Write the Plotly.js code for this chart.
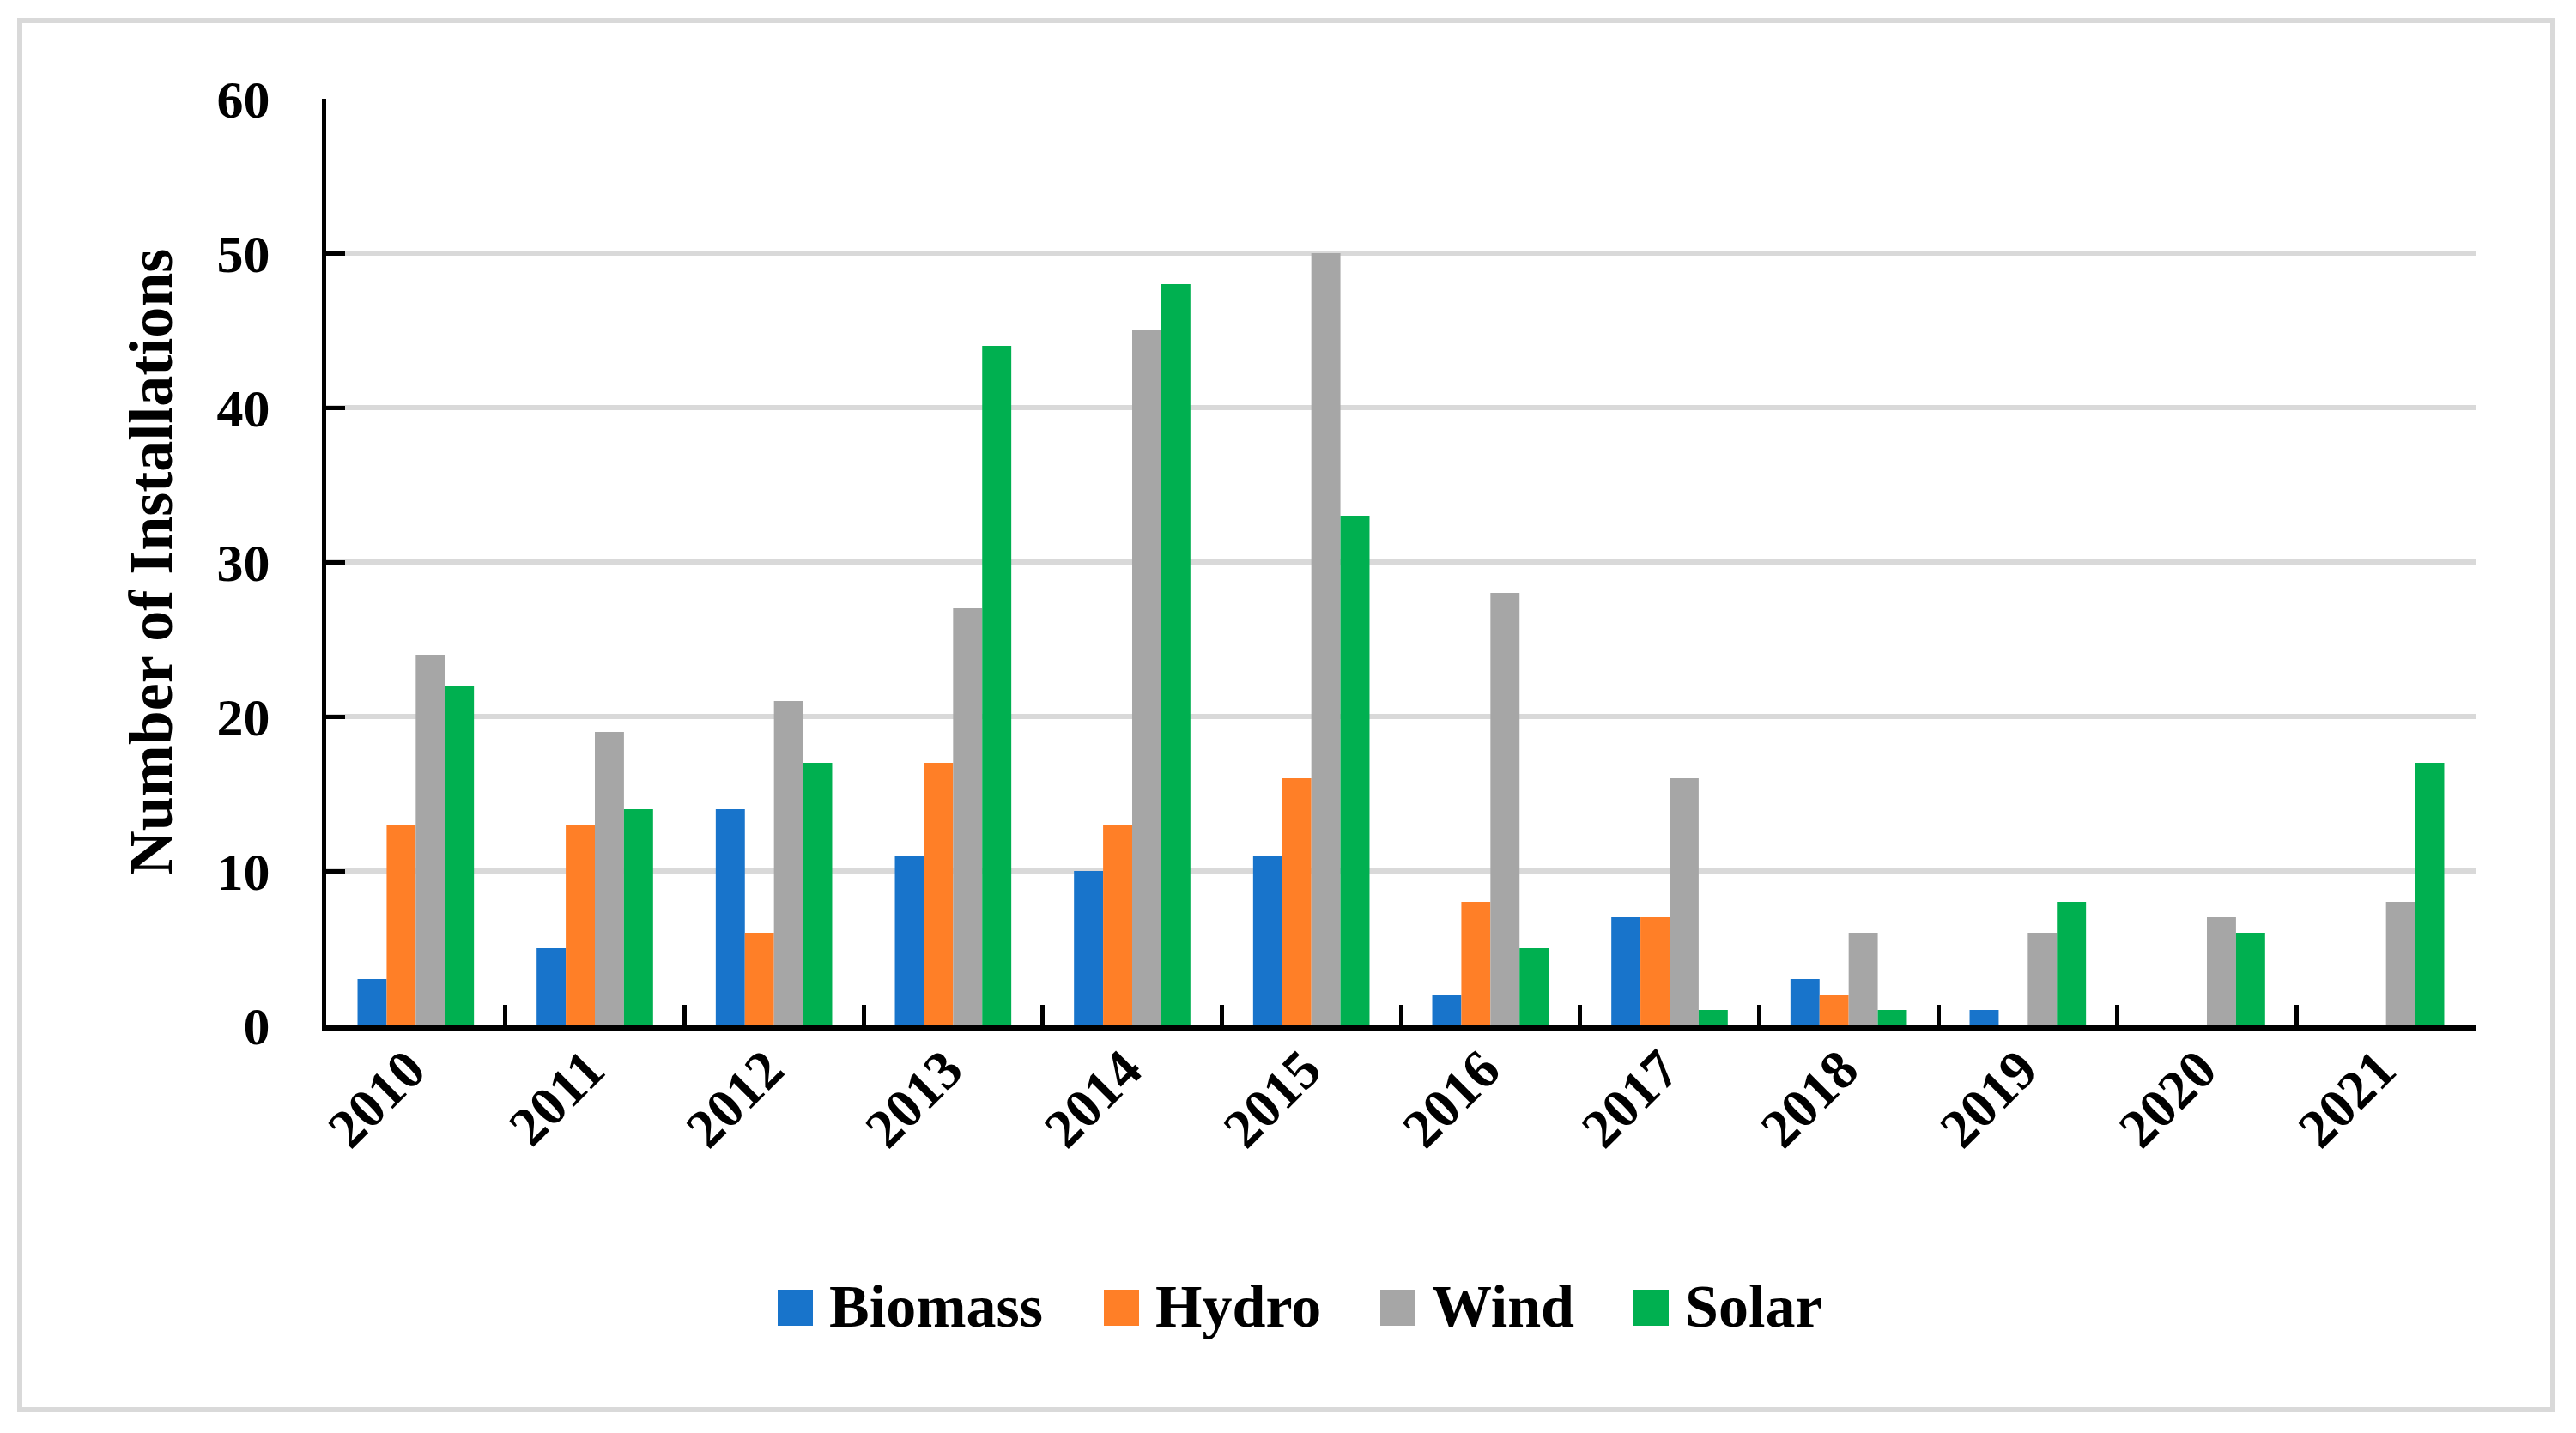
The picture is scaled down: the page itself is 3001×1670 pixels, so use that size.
<!DOCTYPE html>
<html><head><meta charset="utf-8">
<script src="https://cdn.plot.ly/plotly-3.0.1.min.js"></script>
<style>html,body{margin:0;padding:0;background:#fff}#chart{width:3001px;height:1670px}</style>
</head><body><div id="chart"></div>
<script>
// ---- data ----
const years = ['2010','2011','2012','2013','2014','2015','2016','2017','2018','2019','2020','2021'];
const biomass = [3, 5, 14, 11, 10, 11, 2, 7, 3, 1, 0, 0];
const hydro   = [13, 13, 6, 17, 13, 16, 8, 7, 2, 0, 0, 0];
const wind    = [24, 19, 21, 27, 45, 50, 28, 16, 6, 6, 7, 8];
const solar   = [22, 14, 17, 44, 48, 33, 5, 1, 1, 8, 6, 17];
const seriesNames = ['Biomass', 'Hydro', 'Wind', 'Solar'];
const yTickVals = [0, 10, 20, 30, 40, 50, 60];
const yTitle = 'Number of Installations';

// ---- styling ----
const seriesColors = ['#1874CB', '#FF7F27', '#A6A6A6', '#00B050'];
const FONT = 'Palatino Linotype, Book Antiqua, Palatino, Liberation Serif, serif';
const W = 3001, H = 1670;
const M = {l: 380, r: 117, t: 115, b: 475};
const pw = W - M.l - M.r, ph = H - M.t - M.b;
const px = x => (x - M.l) / pw;
const py = y => 1 - (y - M.t) / ph;

const values = [biomass, hydro, wind, solar];
const traces = values.map((v, i) => ({
  type: 'bar', x: years, y: v, name: seriesNames[i],
  marker: {color: seriesColors[i]}, showlegend: false, hoverinfo: 'x+y+name'
}));

// custom legend (large square swatches like the reference)
const legSwatchX = [906, 1286, 1608, 1903];
const shapes = [{
  type: 'rect', xref: 'paper', yref: 'paper',
  x0: px(23), x1: px(2974), y0: py(24), y1: py(1643),
  line: {color: '#d9d9d9', width: 6}, fillcolor: 'rgba(0,0,0,0)', layer: 'below'
}];
const annotations = [];
seriesNames.forEach((n, i) => {
  const x0 = legSwatchX[i];
  shapes.push({type: 'rect', xref: 'paper', yref: 'paper',
    x0: px(x0), x1: px(x0 + 41), y0: py(1545), y1: py(1503),
    line: {width: 0}, fillcolor: seriesColors[i]});
  annotations.push({xref: 'paper', yref: 'paper', x: px(x0 + 58), y: py(1522),
    xanchor: 'left', yanchor: 'middle', showarrow: false, text: n,
    font: {family: FONT, size: 70, color: '#000', weight: 'bold'}});
});

const layout = {
  width: W, height: H,
  margin: M,
  paper_bgcolor: '#fff', plot_bgcolor: '#fff',
  bargap: 0.35, bargroupgap: 0, barmode: 'group',
  showlegend: false,
  font: {family: FONT, color: '#000'},
  xaxis: {
    type: 'category', tickson: 'boundaries', ticks: 'inside', ticklen: 24, tickwidth: 5,
    tickcolor: '#000', showline: true, linewidth: 6, linecolor: '#000', showgrid: false,
    zeroline: false, tickangle: -45, automargin: false,
    ticklabelstandoff: -18, ticklabelshift: -8,
    tickfont: {family: FONT, size: 64, color: '#000', weight: 'bold'}
  },
  yaxis: {
    range: [0, 60], tickvals: yTickVals, ticks: 'inside', ticklen: 22, tickwidth: 5,
    tickcolor: '#000', showline: true, linewidth: 5, linecolor: '#000',
    showgrid: true, gridcolor: '#d9d9d9', gridwidth: 6, zeroline: false,
    ticklabelstandoff: 48, automargin: false,
    tickfont: {family: FONT, size: 62, color: '#000', weight: 'bold'},
    title: {text: yTitle, standoff: 30, font: {family: FONT, size: 72, color: '#000', weight: 'bold'}}
  },
  shapes: shapes,
  annotations: annotations
};

Plotly.newPlot('chart', traces, layout, {displayModeBar: false, staticPlot: true});
</script>
</body></html>
